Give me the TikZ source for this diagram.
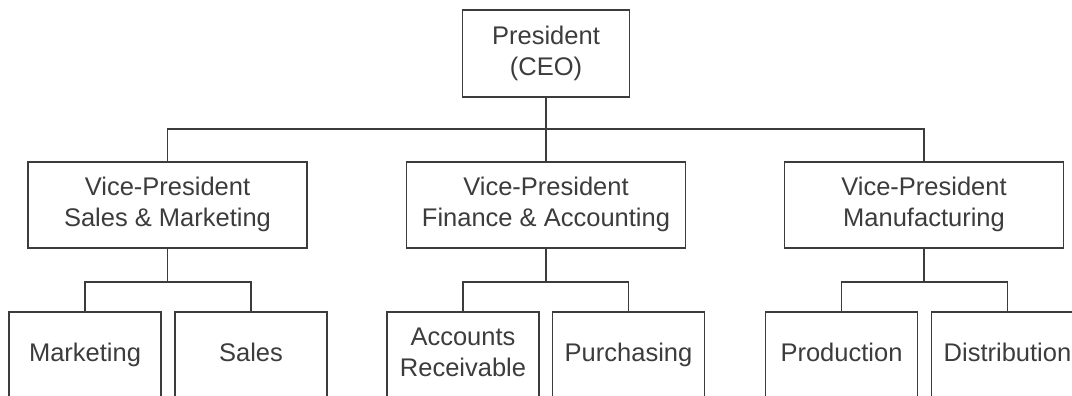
\documentclass[tikz,border=0pt]{standalone}
\usepackage{fontspec}
\setmainfont{Liberation Sans}
\usepackage{tikz}
\definecolor{chartgray}{HTML}{3C3C3C}
\newcommand\boxstrut{\rule[-6pt]{0pt}{24.3pt}}

\begin{document}
\begin{tikzpicture}[x=1pt,y=-1pt]
\tikzset{
  every org box/.style={draw=chartgray,line width=1.9pt,text=chartgray,inner sep=0pt,
    align=center,font=\fontsize{25.5}{31}\selectfont,
    execute at begin node=\boxstrut,execute at end node=\boxstrut},
  top box/.style={every org box,minimum width=167pt,minimum height=87pt},
  vp box/.style={every org box,minimum width=279pt,minimum height=86pt},
  dept box/.style={every org box,minimum width=152pt,minimum height=86pt},
  org line/.style={draw=chartgray,line width=1.9pt},
}
\clip (0,0) rectangle (1072,396);
% president
\node[top box] (ceo) at (546,53.5) {President\\(CEO)};
% vice-presidents
\node[vp box] (vpsales) at (167.5,205) {Vice-President\\Sales \& Marketing};
\node[vp box] (vpfin) at (546,205) {Vice-President\\Finance \& Accounting};
\node[vp box] (vpman) at (924,205) {Vice-President\\Manufacturing};
% departments
\node[dept box] (mkt) at (85,355) {Marketing};
\node[dept box] (sales) at (251,355) {Sales};
\node[dept box] (recv) at (463,355) {Accounts\\Receivable};
\node[dept box] (purch) at (628.5,355) {Purchasing};
\node[dept box] (prod) at (841.5,355) {Production};
\node[dept box] (dist) at (1007.5,355) {Distribution};
% connectors
\draw[org line] (ceo.south) -- ++(0,31) coordinate (topbus);
\draw[org line] (vpsales.north) |- (topbus) -| (vpman.north);
\draw[org line] (topbus) -- (vpfin.north);
\foreach \vp/\left/\right in {vpsales/mkt/sales,vpfin/recv/purch,vpman/prod/dist}{
  \draw[org line] (\vp.south) -- ++(0,33) coordinate (\vp-bus);
  \draw[org line] (\left.north) |- (\vp-bus) -| (\right.north);
}
\end{tikzpicture}
\end{document}
